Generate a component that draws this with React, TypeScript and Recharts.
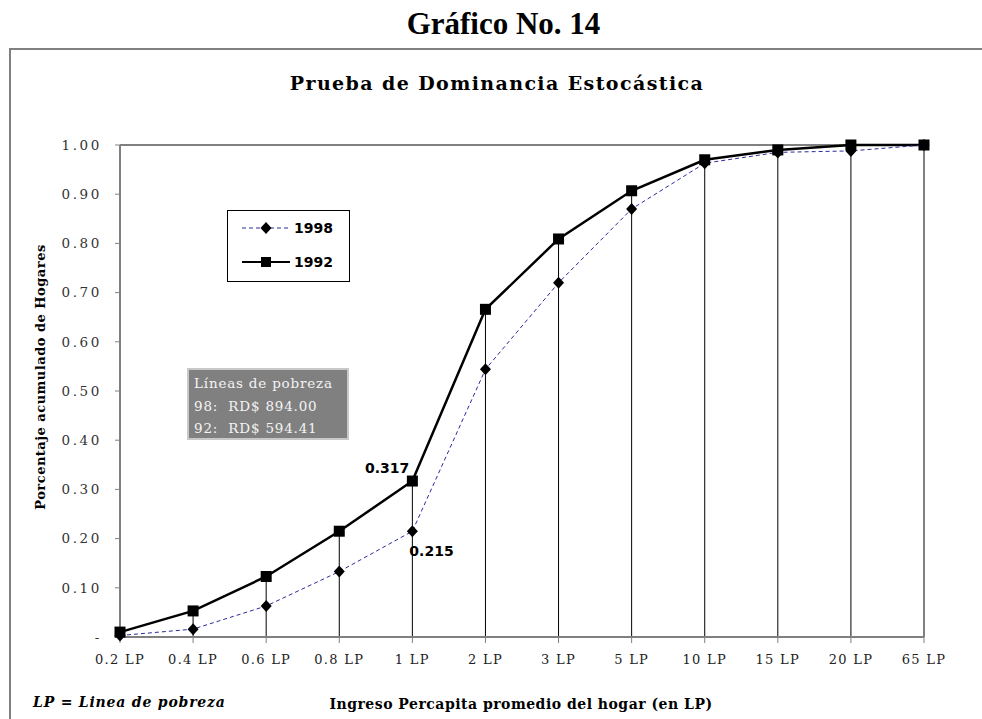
import React from "react";
import { ErrorBar, LabelList, Line, LineChart, ReferenceLine, XAxis, YAxis } from "recharts";

const categories = ["0.2 LP", "0.4 LP", "0.6 LP", "0.8 LP", "1 LP", "2 LP", "3 LP", "5 LP", "10 LP", "15 LP", "20 LP", "65 LP"];
const values1998 = [0.003, 0.016, 0.063, 0.133, 0.215, 0.544, 0.72, 0.87, 0.963, 0.985, 0.988, 1.0];
const values1992 = [0.01, 0.053, 0.123, 0.215, 0.317, 0.666, 0.809, 0.907, 0.97, 0.99, 1.0, 1.0];
const yTicks = [0, 0.1, 0.2, 0.3, 0.4, 0.5, 0.6, 0.7, 0.8, 0.9, 1.0];
const povertyLines = ["Líneas de pobreza", "98:  RD$ 894.00", "92:  RD$ 594.41"];

// drop lines run from each 1992 point down to zero
const data = categories.map((c, i) => ({
  cat: c,
  y1998: values1998[i],
  y1992: values1992[i],
  drop: [values1992[i], 0],
}));

const serif = "'DejaVu Serif', serif";
const sans = "'DejaVu Sans', sans-serif";
const grey = "#808080";

const Diamond = (p: any) => {
  const { cx, cy, index } = p;
  if (cx == null || cy == null) return <g key={index} />;
  return <polygon key={index} points={`${cx},${cy - 6} ${cx + 5.5},${cy} ${cx},${cy + 6} ${cx - 5.5},${cy}`} fill="#000" />;
};

const Square = (p: any) => {
  const { cx, cy, index } = p;
  if (cx == null || cy == null) return <g key={index} />;
  return <rect key={index} x={cx - 5.5} y={cy - 5.5} width={11} height={11} fill="#000" />;
};

function LegendRow({ name, dashed }: { name: string; dashed: boolean }) {
  return (
    <div style={{ display: "flex", alignItems: "center", height: 34 }}>
      <svg width={50} height={16} style={{ marginLeft: 14 }}>
        <line x1={0} y1={8} x2={48} y2={8} stroke={dashed ? "#2b2b9e" : "#000"} strokeWidth={dashed ? 1 : 2} strokeDasharray={dashed ? "4 3" : undefined} />
        {dashed ? <polygon points="24,2 29.5,8 24,14 18.5,8" fill="#000" /> : <rect x={19} y={3} width={10} height={10} fill="#000" />}
      </svg>
      <span style={{ fontFamily: sans, fontWeight: "bold", fontSize: 14, marginLeft: 2 }}>{name}</span>
    </div>
  );
}

export default function App() {
  return (
    <div style={{ position: "absolute", left: 0, top: 0, width: 982, height: 719, overflow: "hidden", background: "#fff" }}>
      <div style={{ position: "absolute", left: 9, top: 48, width: 1000, height: 700, borderLeft: `2px solid ${grey}`, borderTop: `2px solid ${grey}` }} />
      <div style={{ position: "absolute", left: 0, width: 1007, top: 6, textAlign: "center", fontFamily: "'Liberation Serif', serif", fontWeight: "bold", fontSize: 31 }}>
        Gráfico No. 14
      </div>
      <div style={{ position: "absolute", left: 0, width: 994, top: 72, textAlign: "center", fontFamily: serif, fontWeight: "bold", fontSize: 19, letterSpacing: 1.4 }}>
        Prueba de Dominancia Estocástica
      </div>

      <LineChart width={982} height={719} data={data} margin={{ top: 145, right: 58, bottom: 52, left: 40 }} style={{ position: "absolute", left: 0, top: 0 }}>
        <XAxis
          dataKey="cat"
          interval={0}
          height={30}
          axisLine={{ stroke: grey, strokeWidth: 2 }}
          tickLine={{ stroke: grey }}
          tickSize={6}
          tickMargin={12}
          tick={{ fill: "#222", fontSize: 13, fontFamily: serif, letterSpacing: 1.3 }}
        />
        <YAxis
          width={80}
          domain={[0, 1]}
          ticks={yTicks}
          interval={0}
          axisLine={{ stroke: grey, strokeWidth: 2 }}
          tickLine={{ stroke: grey }}
          tickSize={5}
          tickMargin={13}
          tick={{ fill: "#333", fontSize: 13.5, fontFamily: serif, letterSpacing: 2.6 }}
          tickFormatter={(v: number) => (v === 0 ? "-" : v.toFixed(2))}
        />
        <ReferenceLine y={1} stroke={grey} strokeWidth={2} />
        <Line dataKey="y1992" stroke="#000" strokeWidth={2.5} dot={Square} isAnimationActive={false}>
          <ErrorBar dataKey="drop" width={0} stroke="#000" strokeWidth={1} direction="y" />
          <LabelList
            dataKey="y1992"
            content={(p: any) =>
              p.index === 4 ? (
                <text x={p.x - 3} y={p.y - 8} textAnchor="end" fontFamily={sans} fontWeight="bold" fontSize={14} fill="#000">
                  {Number(p.value).toFixed(3)}
                </text>
              ) : null
            }
          />
        </Line>
        <Line dataKey="y1998" stroke="#2b2b9e" strokeWidth={1} strokeDasharray="4 3" dot={Diamond} isAnimationActive={false}>
          <LabelList
            dataKey="y1998"
            content={(p: any) =>
              p.index === 4 ? (
                <text x={p.x - 3} y={p.y + 25} textAnchor="start" fontFamily={sans} fontWeight="bold" fontSize={14} fill="#000">
                  {Number(p.value).toFixed(3)}
                </text>
              ) : null
            }
          />
        </Line>
      </LineChart>

      <div style={{ position: "absolute", left: 227, top: 210, width: 121, height: 70, border: "1px solid #000", background: "#fff" }}>
        <LegendRow name="1998" dashed={true} />
        <LegendRow name="1992" dashed={false} />
      </div>

      <div style={{ position: "absolute", left: 187, top: 368, width: 153, height: 66, background: grey, border: "2px solid #c8c8c8", padding: "2px 0 0 5px", boxSizing: "content-box" }}>
        {povertyLines.map((t) => (
          <div key={t} style={{ fontFamily: serif, fontSize: 13.5, color: "#f4f4f4", lineHeight: "22.5px", whiteSpace: "pre", letterSpacing: 0.8 }}>
            {t}
          </div>
        ))}
      </div>

      <div style={{ position: "absolute", left: 40, top: 377, transform: "translate(-50%, -50%) rotate(-90deg)", whiteSpace: "nowrap", fontFamily: serif, fontWeight: "bold", fontSize: 13, letterSpacing: 0.5 }}>
        Porcentaje acumulado de Hogares
      </div>
      <div style={{ position: "absolute", left: 33, top: 694, fontFamily: serif, fontWeight: "bold", fontStyle: "italic", fontSize: 14, whiteSpace: "nowrap", letterSpacing: 0.8 }}>
        LP = Linea de pobreza
      </div>
      <div style={{ position: "absolute", left: 521, top: 696, transform: "translateX(-50%)", fontFamily: serif, fontWeight: "bold", fontSize: 14, whiteSpace: "nowrap", letterSpacing: 0.5 }}>
        Ingreso Percapita promedio del hogar (en LP)
      </div>
    </div>
  );
}
